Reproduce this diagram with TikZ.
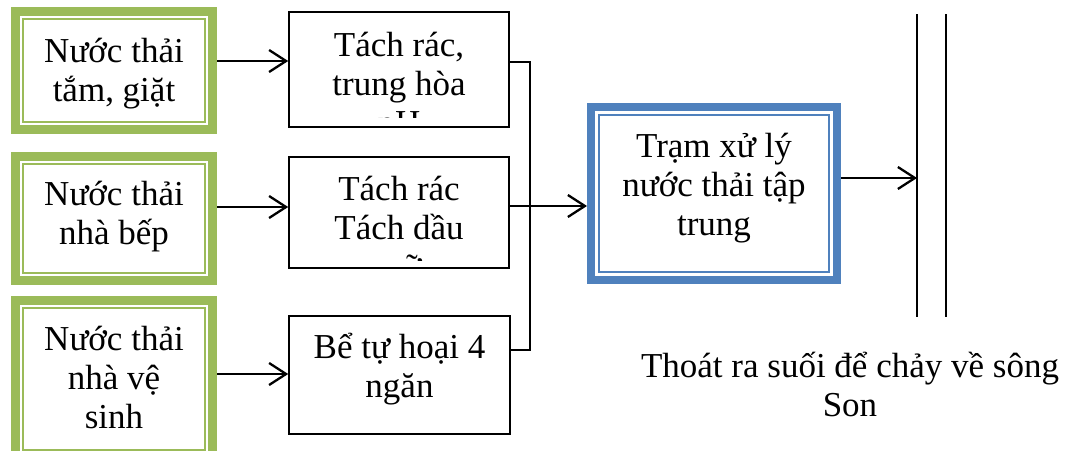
\documentclass[tikz,border=0pt]{standalone}
\usepackage{fontspec}
\setmainfont{Liberation Serif}
\usetikzlibrary{arrows.meta}
\definecolor{grn}{HTML}{9BBB59}
\definecolor{blu}{HTML}{4F81BD}
\newcommand\dblframe[2]{\draw[#2,line width=2pt] ([shift={(12,12)}]#1.north west) rectangle ([shift={(-12,-12)}]#1.south east);}
\begin{document}
\begin{tikzpicture}[x=1pt,y=-1pt,
  txt/.style={font=\fontsize{35}{39}\selectfont, align=center, inner sep=0pt, anchor=base},
  gbox/.style={draw=grn, line width=9pt, minimum width=197pt, minimum height=#1, inner sep=0pt},
  bbox/.style={draw=blu, line width=8pt, minimum width=246pt, minimum height=173pt, inner sep=0pt},
  mbox/.style={draw=black, line width=1.6pt, inner sep=0pt},
  arr/.style={line width=2.3pt, -{Straight Barb[length=17pt,width=22pt]}},
  conn/.style={line width=1.7pt},
  river/.style={line width=2pt}]
\useasboundingbox (0,0) rectangle (1075,450);
\clip (0,0) rectangle (1075,450);
% source boxes
\node[gbox=118pt] (g1) at (114,70.5) {};
\node[gbox=124pt] (g2) at (114,218.5) {};
\node[gbox=157pt] (g3) at (114,379) {};
\dblframe{g1}{grn}
\dblframe{g2}{grn}
\dblframe{g3}{grn}
\node[txt] (tg1) at (114,101) {Nước thải\\tắm, giặt};
\node[txt] (tg2) at (114,244) {Nước thải\\nhà bếp};
\node[txt] (tg3) at (114,428) {Nước thải\\nhà vệ\\sinh};
% treatment boxes
\node[mbox, minimum width=220pt, minimum height=115pt] (m1) at (399,69.5) {};
\node[mbox, minimum width=220pt, minimum height=111pt] (m2) at (399,212.5) {};
\node[mbox, minimum width=221pt, minimum height=118pt] (m3) at (399.5,375) {};
\begin{scope}
\clip (290,13) rectangle (508,117);
\node[txt] (tm1) at (399,134) {Tách rác,\\trung hòa\\pH};
\end{scope}
\begin{scope}
\clip (290,158) rectangle (508,260);
\node[txt] (tm2) at (399,278) {Tách rác\\Tách dầu\\mỡ};
\end{scope}
\node[txt] (tm3) at (399.5,397) {Bể tự hoại 4\\ngăn};
% central station
\node[bbox] (b) at (714,193.5) {};
\dblframe{b}{blu}
\node[txt] (tb) at (714,235) {Trạm xử lý\\nước thải tập\\trung};
% river
\coordinate (r1t) at (917,14);
\coordinate (r1b) at (917,317);
\coordinate (r2t) at (946,14);
\coordinate (r2b) at (946,317);
\draw[river] (r1t) -- (r1b);
\draw[river] (r2t) -- (r2b);
\node[txt] (tr) at (850,416) {Thoát ra suối để chảy về sông\\Son};
% connectors
\draw[arr] (g1.east |- 0,61) -- (m1.west |- 0,61);
\draw[arr] (g2.east |- 0,207) -- (m2.west |- 0,207);
\draw[arr] (g3.east |- 0,374) -- (m3.west |- 0,374);
\coordinate (c1) at (530,62);
\coordinate (c3) at (530,350);
\draw[conn] (m1.east |- c1) -- (c1) -- (c3) -- (m3.east |- c3);
\draw[arr] (m2.east |- 0,206) -- (b.west |- 0,206);
\draw[arr] (b.east |- 0,178) -- (r1t |- 0,178);
\end{tikzpicture}
\end{document}
